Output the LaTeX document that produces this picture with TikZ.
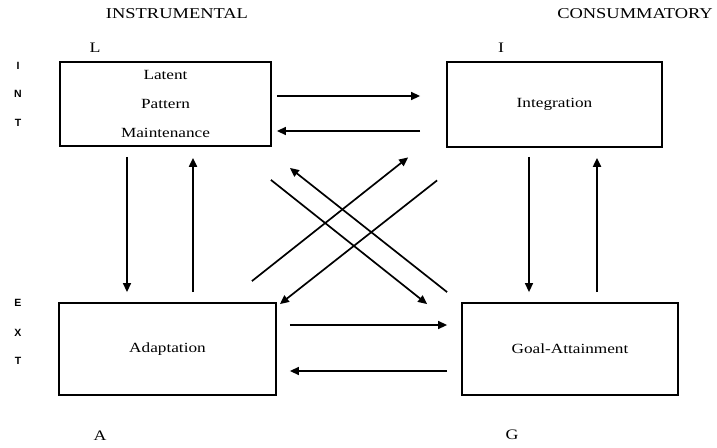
\documentclass[tikz,border=0pt]{standalone}
\usepackage{fontspec}
\newfontfamily\serifwide{Liberation Serif}[FakeStretch=1.23]
\newfontfamily\sidefont{Liberation Sans}
\usepackage{tikz}
\usetikzlibrary{positioning,calc,arrows.meta}

\begin{document}
\begin{tikzpicture}[x=1pt, y=-1pt,
  box/.style={rectangle, draw=black, line width=1.8pt, inner sep=0pt},
  boxtext/.style={font=\serifwide\fontsize{14}{29}\selectfont, align=center},
  arr/.style={-{Triangle[length=9pt,width=8pt]}, line width=1.4pt},
  thickarr/.style={-{Triangle[length=9pt,width=8pt]}, line width=2pt},
  corner/.style={font=\serifwide\fontsize{14.5}{16}\selectfont},
  side/.style={font=\sidefont\bfseries\fontsize{10.5}{12}\selectfont}]
\useasboundingbox[fill=white] (0,0) rectangle (717,447);

% the four boxes
\node (latent) [box, boxtext, minimum width=211pt, minimum height=84pt] at (165.5,104) {Latent\\Pattern\\Maintenance};
\node (integration) [box, boxtext, minimum width=215pt, minimum height=85pt] at (554.5,104.5) {Integration};
\node (adaptation) [box, boxtext, minimum width=217pt, minimum height=92pt] at (167.5,349) {Adaptation};
\node (goal) [box, boxtext, minimum width=216pt, minimum height=92pt] at (570,349) {Goal-Attainment};

% headings and letters
\node (instr) [corner, font=\serifwide\fontsize{15}{17}\selectfont] at (177,14) {INSTRUMENTAL};
\node (consum) [corner, font=\serifwide\fontsize{15}{17}\selectfont] at (635,14) {CONSUMMATORY};
\node (lL) [corner] at (95,48) {L};
\node (lI) [corner] at (501,48) {I};
\node (lA) [corner] at (100,436) {A};
\node (lG) [corner] at (512,435) {G};

\node (int1) [side] at (18,66) {I};
\node (int2) [side] at (18,94) {N};
\node (int3) [side] at (18,123) {T};
\node (ext1) [side] at (18,303) {E};
\node (ext2) [side] at (18,333) {X};
\node (ext3) [side] at (18,361) {T};

% horizontal arrows
\draw[arr] ($(latent.east)+(5,-8)$) -- ($(integration.west)+(-26,-8.5)$);
\draw[arr] ($(integration.west)+(-26,26.5)$) -- ($(latent.east)+(5,27)$);
\draw[arr] ($(adaptation.east)+(13,-24)$) -- ($(goal.west)+(-14,-24)$);
\draw[arr] ($(goal.west)+(-14,22)$) -- ($(adaptation.east)+(13,22)$);

% vertical arrows
\draw[arr] ($(latent.south)+(-38.5,10)$) -- ($(adaptation.north)+(-40.5,-10)$);
\draw[thickarr] ($(adaptation.north)+(25.5,-10)$) -- ($(latent.south)+(27.5,11)$);
\draw[arr] ($(integration.south)+(-25.5,9)$) -- ($(goal.north)+(-41,-10)$);
\draw[thickarr] ($(goal.north)+(27,-10)$) -- ($(integration.south)+(42.5,10)$);

% diagonal arrows
\draw[arr, line width=1.7pt] ($(adaptation.north east)+(-25,-21)$) -- ($(integration.south west)+(-38,9.5)$);
\draw[arr, line width=1.7pt] ($(integration.south west)+(-9,32.5)$) -- ($(adaptation.north east)+(3,2)$);
\draw[arr, line width=1.7pt] ($(goal.north west)+(-14,-10)$) -- ($(latent.south east)+(18,21)$);
\draw[arr, line width=1.7pt] ($(latent.south east)+(-1,33)$) -- ($(goal.north west)+(-34,2)$);
\end{tikzpicture}
\end{document}
